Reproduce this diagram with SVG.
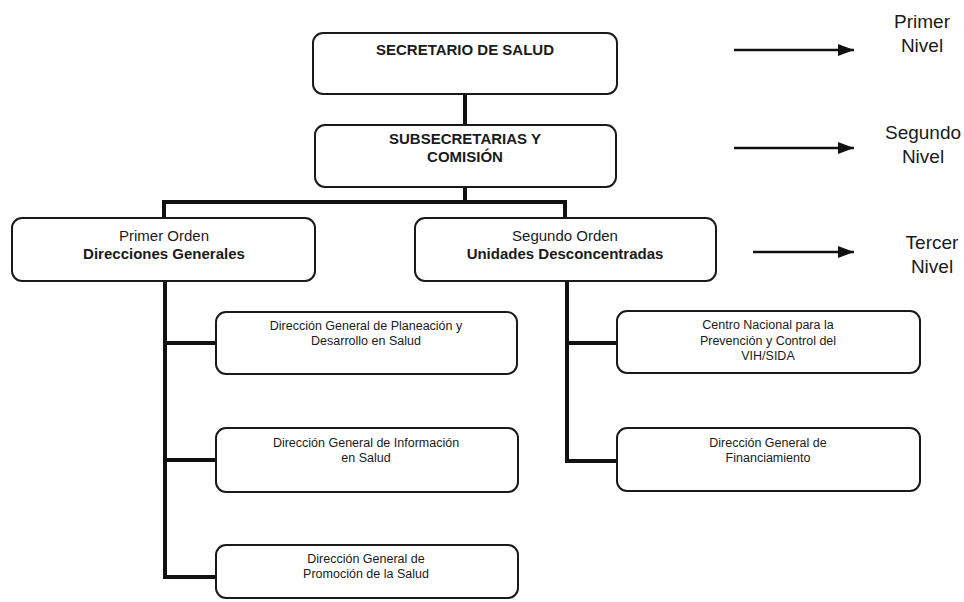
<svg xmlns="http://www.w3.org/2000/svg" width="964" height="602" viewBox="0 0 964 602">
<style>
.box{fill:#fff;stroke:#1a1a1a;stroke-width:2}
.t{font-family:"Liberation Sans",Arial,sans-serif;fill:#1a1a1a;text-anchor:middle}
.b{font-weight:bold;font-size:15px}
.r{font-size:15px}
.s{font-size:12.5px}
.lv{font-size:19px}
.con{stroke:#111;stroke-width:4;fill:none;stroke-linecap:square}
.arr{stroke:#111;stroke-width:2.5;fill:none}
</style>
<defs>
<marker id="ah" markerWidth="16" markerHeight="14" refX="16" refY="7" orient="auto" markerUnits="userSpaceOnUse">
<path d="M0,1 L16,7 L0,13 Z" fill="#111"/>
</marker>
</defs>
<rect width="964" height="602" fill="#fff"/>
<g id="connectors">
<path class="con" d="M465,94 V125"/>
<path class="con" d="M465,187 V202 M164,202 H565 M164,202 V218 M565,202 V218"/>
<path class="con" d="M165,281 V577 M165,343 H216 M165,460 H216 M165,577 H216"/>
<path class="con" d="M567,281 V461 M567,343 H617 M567,461 H617"/>
<path class="arr" d="M734,50 H854" marker-end="url(#ah)"/>
<path class="arr" d="M734,148 H854" marker-end="url(#ah)"/>
<path class="arr" d="M753,252 H854" marker-end="url(#ah)"/>
</g>
<g id="secretario">
<rect class="box" x="313" y="33" width="304" height="61" rx="10"/>
<text class="t b" x="465" y="55">SECRETARIO DE SALUD</text>
</g>
<g id="subsecretarias">
<rect class="box" x="315" y="125" width="301" height="62" rx="10"/>
<text class="t b" x="465" y="144">SUBSECRETARIAS Y</text>
<text class="t b" x="465" y="162">COMISIÓN</text>
</g>
<g id="primer-orden">
<rect class="box" x="12" y="218" width="303" height="63" rx="10"/>
<text class="t r" x="164" y="241">Primer Orden</text>
<text class="t b" x="164" y="259">Direcciones Generales</text>
</g>
<g id="segundo-orden">
<rect class="box" x="415" y="218" width="301" height="63" rx="10"/>
<text class="t r" x="565" y="241">Segundo Orden</text>
<text class="t b" x="565" y="259">Unidades Desconcentradas</text>
</g>
<g id="planeacion">
<rect class="box" x="216" y="312" width="301" height="62" rx="10"/>
<text class="t s" x="366" y="330">Dirección General de Planeación y</text>
<text class="t s" x="366" y="345">Desarrollo en Salud</text>
</g>
<g id="informacion">
<rect class="box" x="216" y="428" width="302" height="64" rx="10"/>
<text class="t s" x="366" y="447">Dirección General de Información</text>
<text class="t s" x="366" y="462">en Salud</text>
</g>
<g id="promocion">
<rect class="box" x="216" y="545" width="302" height="53" rx="10"/>
<text class="t s" x="366" y="563">Dirección General de</text>
<text class="t s" x="366" y="578">Promoción de la Salud</text>
</g>
<g id="censida">
<rect class="box" x="617" y="311" width="303" height="62" rx="10"/>
<text class="t s" x="768" y="329">Centro Nacional para la</text>
<text class="t s" x="768" y="345">Prevención y Control del</text>
<text class="t s" x="768" y="360">VIH/SIDA</text>
</g>
<g id="financiamiento">
<rect class="box" x="617" y="428" width="303" height="63" rx="10"/>
<text class="t s" x="768" y="447">Dirección General de</text>
<text class="t s" x="768" y="462">Financiamiento</text>
</g>
<g id="nivel-1">
<text class="t lv" x="922" y="28">Primer</text>
<text class="t lv" x="922" y="52">Nivel</text>
</g>
<g id="nivel-2">
<text class="t lv" x="923" y="139">Segundo</text>
<text class="t lv" x="923" y="163">Nivel</text>
</g>
<g id="nivel-3">
<text class="t lv" x="932" y="249">Tercer</text>
<text class="t lv" x="932" y="273">Nivel</text>
</g>
</svg>
